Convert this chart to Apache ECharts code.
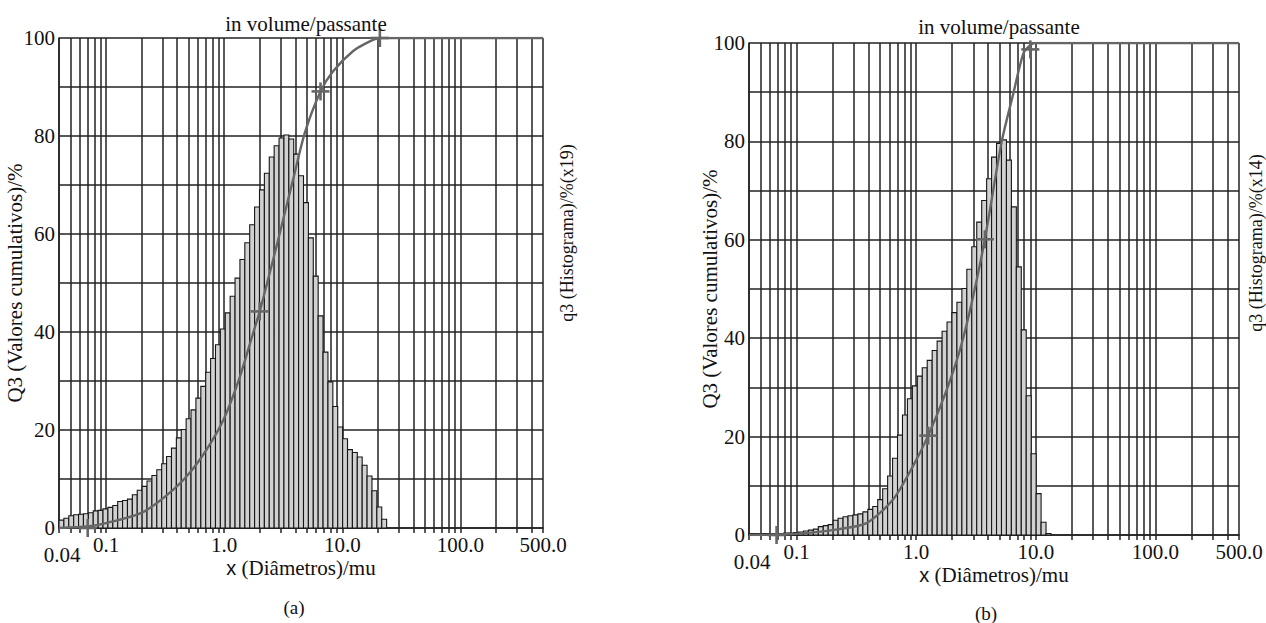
<!DOCTYPE html>
<html><head><meta charset="utf-8">
<script src="https://cdn.jsdelivr.net/npm/echarts@6/dist/echarts.min.js"></script>
<style>html,body{margin:0;padding:0;background:#fff}#c{width:1266px;height:623px}</style>
</head><body><div id="c"></div>
<script>
// histogram classes: geometric bins starting at 0.04 µm
const binStart = 0.04;
const binRatio = 1.1;
// histogram heights (displayed %, panel a, x19 scale)
const histA = [1.6,2.0,2.5,2.7,2.8,2.9,3.1,3.5,3.6,3.9,4.2,4.6,5.4,5.6,5.9,6.8,7.7,8.5,9.6,10.7,
  11.9,13.1,14.6,16.3,18.4,20.1,22.3,24.1,26.5,28.9,31.8,34.6,37.4,40.6,43.9,47.3,51.0,54.8,58.2,61.9,
  65.5,69.0,72.4,75.7,78.0,79.6,80.2,79.4,76.3,71.9,66.4,59.2,51.4,43.3,35.9,29.8,24.8,20.6,18.2,16.0,
  15.4,14.5,12.8,10.6,7.6,4.3,1.8];
// histogram heights (panel b, x14 scale)
const histB = [0.3,0.3,0.3,0.3,0.3,0.3,0.3,0.4,0.4,0.5,0.6,0.8,1.0,1.2,1.7,1.9,2.1,3.0,3.4,3.7,
  3.9,4.1,4.3,4.7,5.2,5.8,7.2,9.4,12.0,15.6,20.3,24.4,27.7,30.3,32.3,34.0,35.5,37.5,39.4,41.4,
  43.3,45.2,47.3,50.1,54.0,58.6,63.6,68.0,72.4,76.8,79.6,80.3,76.2,66.7,54.5,41.7,28.3,16.5,8.4,2.6,0.3];
// cumulative Q3 curves
const cumXA = [0.04,0.07,0.1,0.2,0.32,0.48,0.71,1.0,1.36,1.76,2.0,2.6,2.96,3.83,4.81,6.54,8.36,12.3,17.1,20.8,500];
const cumYA = [0,0.3,1.0,3.1,6.5,10.5,16.0,22.4,30.9,39.8,44.2,54.8,60.2,71.1,80.6,89.1,93.2,97.3,99.3,100,100];
const cumXB = [0.04,0.093,0.2,0.384,0.64,0.94,1.26,1.8,2.32,2.9,3.75,5.18,6.48,7.85,8.94,9.84,500];
const cumYB = [0,0.2,1.0,2.4,7.2,14.0,20.2,29.5,37.6,47.0,60.1,79.9,89.7,97.8,99.5,100,100];
// cross markers
const crossXA = [0.07,2.0,6.54,20.8];
const crossYA = [0,44.2,89.1,100];
const crossXB = [0.068,1.26,3.75,9.0];
const crossYB = [0,20.2,60.1,98.7];
// axis ticks
const gridTicks = [0.04,0.05,0.06,0.07,0.08,0.09,0.1,0.2,0.3,0.4,0.5,0.6,0.7,0.8,0.9,
  1,2,3,4,5,6,7,8,9,10,20,30,40,50,60,70,80,90,100,200,300,400,500];
const labelTicks = [0.04,0.1,1,10,100,500];
const titleText = 'in volume/passante';
const yName = 'Q3 (Valores cumulativos)/%';
const xName = '{s|x} (Diâmetros)/mu';
const rightNames = ['q3 (Histograma)/%(x19)', 'q3 (Histograma)/%(x14)'];
const panelTags = ['(a)', '(b)'];

const SERIF = 'Liberation Serif, Times New Roman, serif';
const LINE = '#222';
const LW = 1.5;
const TXT = '#111';
const FS = 21;

const grids = [
  {left: 59, top: 38, width: 484, height: 490},
  {left: 749, top: 43, width: 490, height: 492}
];
const yGaps = [34, 29];

function xAxisFor(i) {
  return {
    type: 'log', logBase: 10, min: 0.04, max: 500, gridIndex: i,
    name: xName, nameLocation: 'middle', nameGap: 29, nameMoveOverlap: false,
    nameTextStyle: {fontFamily: SERIF, fontSize: FS, color: TXT,
      rich: {s: {fontFamily: 'Liberation Sans, Arial, sans-serif', fontSize: FS - 1, color: TXT}}},
    axisLine: {show: true, lineStyle: {color: LINE, width: LW}},
    axisTick: {show: true, customValues: gridTicks, length: 5, inside: false, lineStyle: {color: LINE, width: LW}},
    minorTick: {show: false},
    splitLine: {show: true, lineStyle: {color: LINE, width: LW}},
    axisLabel: {
      customValues: labelTicks, margin: 6, fontFamily: SERIF, fontSize: FS, color: TXT,
      formatter: v => (v < 0.05 ? '{low|0.04}' : Number(v).toFixed(1)),
      rich: {low: {fontFamily: SERIF, fontSize: FS, color: TXT, padding: [10, 0, 0, 6]}}
    }
  };
}
function yAxisFor(i) {
  return {
    type: 'value', min: 0, max: 100, interval: 10, gridIndex: i,
    name: yName, nameLocation: 'middle', nameGap: yGaps[i], nameMoveOverlap: false,
    nameTextStyle: {fontFamily: SERIF, fontSize: FS, color: TXT},
    axisLine: {show: true, lineStyle: {color: LINE, width: LW}},
    axisTick: {show: false},
    splitLine: {show: true, lineStyle: {color: LINE, width: LW}},
    axisLabel: {margin: 4, fontFamily: SERIF, fontSize: FS, color: TXT,
      formatter: v => (v % 20 === 0 ? String(v) : '')}
  };
}

function barData(h) {
  return h.map((v, i) => [binStart * Math.pow(binRatio, i), binStart * Math.pow(binRatio, i + 1), v]);
}
function renderBar(params, api) {
  const p0 = api.coord([api.value(0), 0]);
  const p1 = api.coord([api.value(1), api.value(2)]);
  return {type: 'rect', shape: {x: p0[0], y: p1[1], width: p1[0] - p0[0], height: p0[1] - p1[1]},
    style: {fill: '#d1d1d1', stroke: '#161616', lineWidth: 1.1}};
}
function renderCross(params, api) {
  const p = api.coord([api.value(0), api.value(1)]);
  const s = 9;
  const st = {stroke: '#666', lineWidth: 2.6};
  return {type: 'group', children: [
    {type: 'line', shape: {x1: p[0] - s, y1: p[1], x2: p[0] + s, y2: p[1]}, style: st},
    {type: 'line', shape: {x1: p[0], y1: p[1] - s, x2: p[0], y2: p[1] + s}, style: st}
  ]};
}
function zip(a, b) { return a.map((v, i) => [v, b[i]]); }

const series = [];
[[histA, cumXA, cumYA, crossXA, crossYA], [histB, cumXB, cumYB, crossXB, crossYB]].forEach((d, i) => {
  series.push({type: 'custom', xAxisIndex: i, yAxisIndex: i, renderItem: renderBar,
    encode: {x: [0, 1], y: 2}, data: barData(d[0]), z: 3, silent: true});
  series.push({type: 'line', xAxisIndex: i, yAxisIndex: i, data: zip(d[1], d[2]), smooth: 0.25,
    showSymbol: false, lineStyle: {color: '#666', width: 2.4}, z: 4, silent: true});
  series.push({type: 'custom', xAxisIndex: i, yAxisIndex: i, renderItem: renderCross,
    encode: {x: 0, y: 1}, data: zip(d[3], d[4]), z: 5, silent: true, clip: false});
});

const chart = echarts.init(document.getElementById('c'), null, {renderer: 'svg'});
chart.setOption({
  backgroundColor: '#fff',
  animation: false,
  title: [
    {text: titleText, left: 301, top: 8, textAlign: 'center',
      textStyle: {fontFamily: SERIF, fontSize: FS, fontWeight: 'normal', color: TXT}},
    {text: titleText, left: 994, top: 11, textAlign: 'center',
      textStyle: {fontFamily: SERIF, fontSize: FS, fontWeight: 'normal', color: TXT}}
  ],
  grid: grids,
  xAxis: [xAxisFor(0), xAxisFor(1)],
  yAxis: [yAxisFor(0), yAxisFor(1)],
  series: series,
  graphic: [
    {type: 'text', x: 567, y: 233, rotation: Math.PI / 2,
      style: {text: rightNames[0], font: '18px ' + SERIF, fill: TXT, textAlign: 'center', textVerticalAlign: 'middle'}},
    {type: 'text', x: 1256, y: 243, rotation: Math.PI / 2,
      style: {text: rightNames[1], font: '18px ' + SERIF, fill: TXT, textAlign: 'center', textVerticalAlign: 'middle'}},
    {type: 'text', x: 294, y: 607,
      style: {text: panelTags[0], font: '19px ' + SERIF, fill: TXT, textAlign: 'center', textVerticalAlign: 'middle'}},
    {type: 'text', x: 986, y: 613,
      style: {text: panelTags[1], font: '19px ' + SERIF, fill: TXT, textAlign: 'center', textVerticalAlign: 'middle'}}
  ]
});
</script></body></html>
